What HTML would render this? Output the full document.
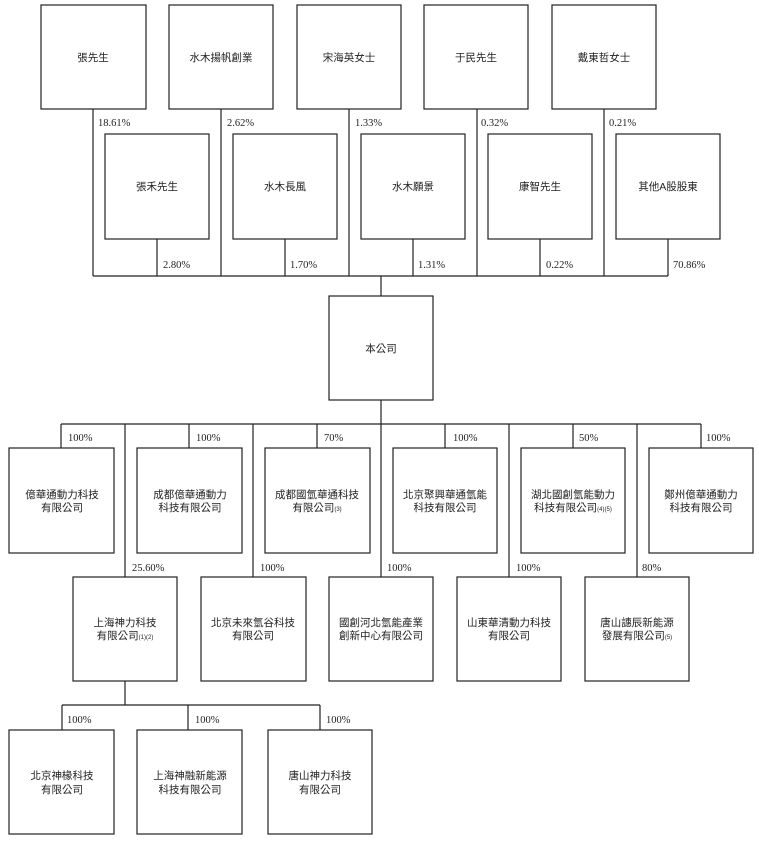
<!DOCTYPE html>
<html><head><meta charset="utf-8"><style>
html,body{margin:0;padding:0;background:#fff;}
svg{display:block}
.c{font-family:"Liberation Sans","Noto Sans CJK TC",sans-serif;font-size:10.5px;fill:#222;text-anchor:middle}
.p{font-family:"Liberation Serif",serif;font-size:10.5px;fill:#222}
.s{font-size:6px}
rect{fill:#fff;stroke:#222;stroke-width:1.2}
line,polyline{stroke:#222;stroke-width:1.2;fill:none}
</style></head><body>
<svg width="759" height="847" viewBox="0 0 759 847" xmlns="http://www.w3.org/2000/svg">
<!-- top connectors -->
<line x1="93" y1="109" x2="93" y2="276"/><line x1="221" y1="109" x2="221" y2="276"/>
<line x1="349" y1="109" x2="349" y2="276"/><line x1="477" y1="109" x2="477" y2="276"/>
<line x1="604" y1="109" x2="604" y2="276"/>
<line x1="157" y1="239" x2="157" y2="276"/><line x1="285" y1="239" x2="285" y2="276"/>
<line x1="413" y1="239" x2="413" y2="276"/><line x1="540" y1="239" x2="540" y2="276"/>
<line x1="668" y1="239" x2="668" y2="276"/>
<line x1="93" y1="276" x2="668" y2="276"/>
<line x1="381" y1="276" x2="381" y2="296"/>
<!-- top boxes -->
<rect x="41" y="5" width="105" height="104"/><rect x="169" y="5" width="104" height="104"/>
<rect x="297" y="5" width="104" height="104"/><rect x="424" y="5" width="104" height="104"/>
<rect x="552" y="5" width="104" height="104"/>
<text class="c" x="93" y="61">張先生</text><text class="c" x="221" y="61">水木揚帆創業</text>
<text class="c" x="349" y="61">宋海英女士</text><text class="c" x="476" y="61">于民先生</text>
<text class="c" x="604" y="61">戴東哲女士</text>
<text class="p" x="98" y="126">18.61%</text><text class="p" x="227" y="126">2.62%</text>
<text class="p" x="355" y="126">1.33%</text><text class="p" x="481" y="126">0.32%</text>
<text class="p" x="609" y="126">0.21%</text>
<rect x="105" y="134" width="104" height="105"/><rect x="233" y="134" width="104" height="105"/>
<rect x="361" y="134" width="104" height="105"/><rect x="488" y="134" width="104" height="105"/>
<rect x="616" y="134" width="104" height="105"/>
<text class="c" x="157" y="190">張禾先生</text><text class="c" x="285" y="190">水木長風</text>
<text class="c" x="413" y="190">水木願景</text><text class="c" x="540" y="190">康智先生</text>
<text class="c" x="668" y="190">其他A股股東</text>
<text class="p" x="163" y="268">2.80%</text><text class="p" x="290" y="268">1.70%</text>
<text class="p" x="418" y="268">1.31%</text><text class="p" x="546" y="268">0.22%</text>
<text class="p" x="673" y="268">70.86%</text>
<!-- company -->
<rect x="329" y="296" width="104" height="104"/>
<text class="c" x="381" y="352">本公司</text>
<line x1="381" y1="400" x2="381" y2="424"/>
<line x1="61" y1="424" x2="701" y2="424"/>
<line x1="61" y1="424" x2="61" y2="448"/><line x1="189" y1="424" x2="189" y2="448"/>
<line x1="317" y1="424" x2="317" y2="448"/><line x1="445" y1="424" x2="445" y2="448"/>
<line x1="573" y1="424" x2="573" y2="448"/><line x1="701" y1="424" x2="701" y2="448"/>
<line x1="125" y1="424" x2="125" y2="577"/><line x1="253" y1="424" x2="253" y2="577"/>
<line x1="381" y1="424" x2="381" y2="577"/><line x1="509" y1="424" x2="509" y2="577"/>
<line x1="637" y1="424" x2="637" y2="577"/>
<text class="p" x="68" y="441">100%</text><text class="p" x="196" y="441">100%</text>
<text class="p" x="324" y="441">70%</text><text class="p" x="453" y="441">100%</text>
<text class="p" x="579" y="441">50%</text><text class="p" x="706" y="441">100%</text>
<rect x="9" y="448" width="105" height="105"/><rect x="137" y="448" width="105" height="105"/>
<rect x="265" y="448" width="105" height="105"/><rect x="393" y="448" width="104" height="105"/>
<rect x="521" y="448" width="104" height="105"/><rect x="649" y="448" width="104" height="105"/>
<text class="c" x="62" y="498">億華通動力科技</text><text class="c" x="62" y="511">有限公司</text>
<text class="c" x="190" y="498">成都億華通動力</text><text class="c" x="190" y="511">科技有限公司</text>
<text class="c" x="317" y="498">成都國氫華通科技</text><text class="c" x="317" y="511">有限公司<tspan class="s">(3)</tspan></text>
<text class="c" x="445" y="498">北京聚興華通氫能</text><text class="c" x="445" y="511">科技有限公司</text>
<text class="c" x="573" y="498">湖北國創氫能動力</text><text class="c" x="573" y="511">科技有限公司<tspan class="s">(4)(5)</tspan></text>
<text class="c" x="701" y="498">鄭州億華通動力</text><text class="c" x="701" y="511">科技有限公司</text>
<text class="p" x="132" y="571">25.60%</text><text class="p" x="260" y="571">100%</text>
<text class="p" x="387" y="571">100%</text><text class="p" x="516" y="571">100%</text>
<text class="p" x="642" y="571">80%</text>
<rect x="73" y="577" width="104" height="104"/><rect x="201" y="577" width="105" height="104"/>
<rect x="329" y="577" width="104" height="104"/><rect x="457" y="577" width="104" height="104"/>
<rect x="585" y="577" width="104" height="104"/>
<text class="c" x="125" y="626">上海神力科技</text><text class="c" x="125" y="639">有限公司<tspan class="s">(1)(2)</tspan></text>
<text class="c" x="253" y="626">北京未來氫谷科技</text><text class="c" x="253" y="639">有限公司</text>
<text class="c" x="381" y="626">國創河北氫能產業</text><text class="c" x="381" y="639">創新中心有限公司</text>
<text class="c" x="509" y="626">山東華清動力科技</text><text class="c" x="509" y="639">有限公司</text>
<text class="c" x="637" y="626">唐山譓辰新能源</text><text class="c" x="637" y="639">發展有限公司<tspan class="s">(5)</tspan></text>
<line x1="125" y1="681" x2="125" y2="705"/>
<line x1="62" y1="705" x2="320" y2="705"/>
<line x1="62" y1="705" x2="62" y2="730"/><line x1="188" y1="705" x2="188" y2="730"/>
<line x1="320" y1="705" x2="320" y2="730"/>
<text class="p" x="67" y="723">100%</text><text class="p" x="195" y="723">100%</text>
<text class="p" x="326" y="723">100%</text>
<rect x="9" y="730" width="105" height="104"/><rect x="137" y="730" width="105" height="104"/>
<rect x="268" y="730" width="104" height="104"/>
<text class="c" x="62" y="779">北京神椽科技</text><text class="c" x="62" y="793">有限公司</text>
<text class="c" x="190" y="779">上海神融新能源</text><text class="c" x="190" y="793">科技有限公司</text>
<text class="c" x="320" y="779">唐山神力科技</text><text class="c" x="320" y="793">有限公司</text>
</svg>
</body></html>
